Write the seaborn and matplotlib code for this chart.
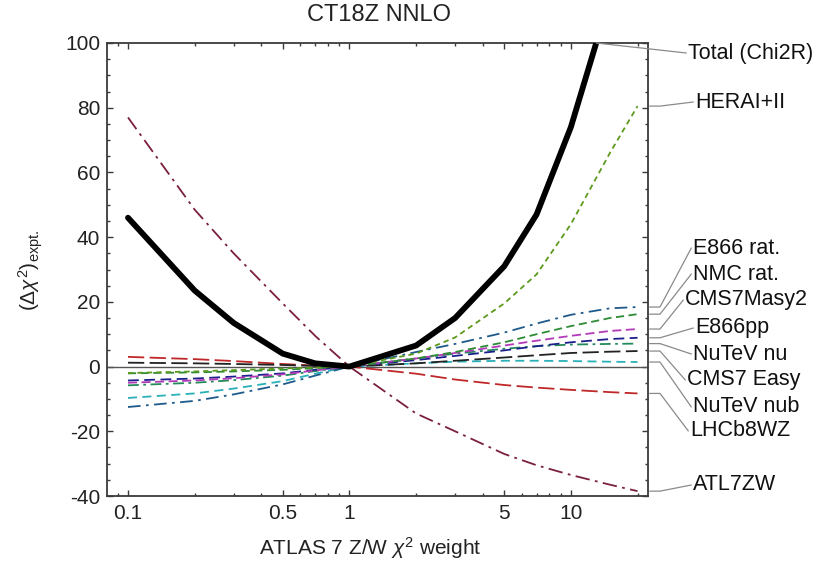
import numpy as np
import pandas as pd
import matplotlib
matplotlib.use("Agg")
import matplotlib.pyplot as plt
import seaborn as sns
from matplotlib.lines import Line2D
from matplotlib.ticker import FixedLocator, LogLocator, NullFormatter, MultipleLocator, FixedFormatter

# ---------------- data ----------------
weights = [0.1, 0.2, 0.3, 0.5, 0.7, 1, 2, 3, 5, 7, 10, 15, 20]
total = [46, 23.5, 13.5, 4.0, 1.0, 0, 6.5, 15, 31, 47, 74, 114, 150]
hera = [-2.0, -1.5, -1.1, -0.6, -0.3, 0, 4.0, 9.0, 19.5, 28.5, 44, 66, 80.5]
atl7zw = [77, 48.5, 35, 19.5, 9.5, 0, -14.5, -20, -27, -30.5, -33.5, -36.5, -38.5]
e866rat = [-12.5, -10.6, -8.6, -5.5, -2.8, 0, 4.5, 7.0, 10.5, 13.3, 16.0, 18.0, 18.4]
nmcrat = [-2.1, -1.8, -1.5, -1.0, -0.5, 0, 2.5, 4.5, 7.5, 10.0, 12.5, 15.0, 16.2]
cms7masy2 = [-5.0, -4.3, -3.6, -2.4, -1.2, 0, 2.5, 4.2, 6.5, 8.0, 9.5, 11.0, 11.6]
e866pp = [-4.3, -3.7, -3.1, -2.1, -1.0, 0, 2.0, 3.3, 5.0, 6.3, 7.5, 8.5, 8.9]
nutevnu = [-5.8, -5.0, -4.2, -2.8, -1.4, 0, 2.5, 4.0, 5.5, 6.3, 6.8, 7.0, 7.1]
cms7easy = [1.2, 1.0, 0.8, 0.5, 0.2, 0, 1.0, 1.8, 2.8, 3.5, 4.2, 4.6, 4.8]
nutevnub = [-9.7, -8.3, -6.8, -4.5, -2.2, 0, 1.0, 1.5, 1.8, 1.8, 1.7, 1.5, 1.4]
lhcb8wz = [3.0, 2.3, 1.7, 0.8, 0.3, 0, -2.2, -4.0, -5.7, -6.5, -7.2, -7.9, -8.3]

x_ticks = [0.1, 0.5, 1, 5, 10]
x_ticklabels = ["0.1", "0.5", "1", "5", "10"]
y_ticks = [-40, -20, 0, 20, 40, 60, 80, 100]

labels = ["Total (Chi2R)", "HERAI+II", "E866 rat.", "NMC rat.", "CMS7Masy2",
          "E866pp", "NuTeV nu", "CMS7 Easy", "NuTeV nub", "LHCb8WZ", "ATL7ZW"]
series_values = [total, hera, e866rat, nmcrat, cms7masy2, e866pp, nutevnu,
                 cms7easy, nutevnub, lhcb8wz, atl7zw]

# ---------------- styles ----------------
styles = {
    "Total (Chi2R)": dict(color="black", ls="-", lw=4.2),
    "HERAI+II": dict(color="#5c9a1e", ls=(0, (3, 2.2)), lw=1.3),
    "E866 rat.": dict(color="#1f5a8a", ls=(0, (7, 3, 1.5, 3)), lw=1.3),
    "NMC rat.": dict(color="#2e8b35", ls=(0, (4.5, 2.5)), lw=1.3),
    "CMS7Masy2": dict(color="#b23ab8", ls=(0, (5, 2.5)), lw=1.3),
    "E866pp": dict(color="#1c1f8c", ls=(0, (6, 3)), lw=1.3),
    "NuTeV nu": dict(color="#238a5a", ls=(0, (6, 2.5, 1.5, 2.5)), lw=1.3),
    "CMS7 Easy": dict(color="#222222", ls=(0, (9, 3)), lw=1.3),
    "NuTeV nub": dict(color="#2ab0b8", ls=(0, (5, 3)), lw=1.3),
    "LHCb8WZ": dict(color="#c0282a", ls=(0, (9, 3)), lw=1.3),
    "ATL7ZW": dict(color="#7a1f3d", ls=(0, (8, 3, 1.5, 3)), lw=1.3),
}

# label text positions in image pixels (x left, y centre from top)
label_pos = {
    "Total (Chi2R)": (688, 53), "HERAI+II": (695, 102), "E866 rat.": (693, 248),
    "NMC rat.": (693, 274), "CMS7Masy2": (685, 300), "E866pp": (695, 328),
    "NuTeV nu": (693, 354), "CMS7 Easy": (687, 380), "NuTeV nub": (693, 407),
    "LHCb8WZ": (690, 431), "ATL7ZW": (693, 485),
}

df = pd.DataFrame({"weight": np.tile(weights, len(labels)),
                   "value": np.concatenate(series_values),
                   "series": np.repeat(labels, len(weights))})

sns.set_style("ticks")
plt.rcParams["font.family"] = ["Liberation Sans", "DejaVu Sans"]
plt.rcParams["mathtext.fontset"] = "custom"
plt.rcParams["mathtext.rm"] = "Liberation Sans"
plt.rcParams["mathtext.it"] = "Liberation Sans:italic"
plt.rcParams["axes.unicode_minus"] = False

W, H = 838, 562
fig = plt.figure(figsize=(W / 100, H / 100), dpi=100)
L, R, T, B = 107, 648, 43, 496
ax = fig.add_axes([L / W, 1 - B / H, (R - L) / W, (B - T) / H])

ax.axhline(0, color="#555555", lw=1.0, zorder=1)

draw_order = labels[::-1]
for name in draw_order:
    st = styles[name]
    sub = df[df["series"] == name]
    sns.lineplot(data=sub, x="weight", y="value", ax=ax, color=st["color"],
                 linestyle=st["ls"], linewidth=st["lw"], legend=False,
                 zorder=5 if name == "Total (Chi2R)" else 3)

ax.set_xscale("log")
ax.set_xlim(0.0804, 22.3)
ax.set_ylim(-40, 100)
ax.xaxis.set_major_locator(FixedLocator(x_ticks))
ax.xaxis.set_major_formatter(FixedFormatter(x_ticklabels))
ax.xaxis.set_minor_locator(LogLocator(base=10, subs=np.arange(1, 10), numticks=20))
ax.xaxis.set_minor_formatter(NullFormatter())
ax.yaxis.set_major_locator(FixedLocator(y_ticks))
ax.yaxis.set_minor_locator(MultipleLocator(5))
ax.set_xlabel("")
ax.set_ylabel("")

spine_c = "#3a3a3a"
for s in ax.spines.values():
    s.set_color(spine_c)
    s.set_linewidth(1.3)
    s.set_visible(True)
ax.tick_params(which="both", direction="in", top=True, right=True,
               color=spine_c, width=1.0)
ax.tick_params(which="major", length=4.5)
ax.tick_params(which="minor", length=2.5)
ax.tick_params(axis="y", which="major", labelsize=15, pad=5, labelcolor="#222222")
ax.tick_params(axis="x", which="major", labelsize=15, pad=6, labelcolor="#222222")

# title and axis labels
fig.text(379 / W, 1 - 15 / H, "CT18Z NNLO", ha="center", va="center",
         fontsize=17, color="#222222")
fig.text(370 / W, 1 - 548 / H, r"ATLAS 7 Z/W $\chi^{2}$ weight", ha="center",
         va="center", fontsize=15, color="#222222")
fig.text(31 / W, 1 - 270 / H, r"$(\Delta\chi^{2})_{\mathrm{expt.}}$", ha="center",
         va="center", rotation=90, fontsize=15, color="#222222")

# leader lines and labels
fig.canvas.draw()
inv = fig.transFigure.inverted()
lead_c = "#8a8a8a"
for name, vals in zip(labels, series_values):
    tx, ty = label_pos[name]
    txf, tyf = tx / W, 1 - ty / H
    if name == "Total (Chi2R)":
        lw_ = np.log10(weights[5:])
        xc = 10 ** np.interp(100, vals[5:], lw_)
        p = inv.transform(ax.transData.transform((xc, 100)))
        pts = [(p[0], p[1]), (txf - 0.002, tyf)]
    else:
        yd = ax.transData.transform((weights[-1], vals[-1]))[1]
        yf = yd / fig.bbox.height
        x0 = R / W + 0.002
        x1 = (R + 12) / W
        pts = [(x0, yf), (x1, yf), (txf - 0.002, tyf)]
    xs, ys = zip(*pts)
    fig.add_artist(Line2D(xs, ys, transform=fig.transFigure, color=lead_c, lw=0.9))
    fig.text(txf, tyf, name, ha="left", va="center", fontsize=15.5, color="#111111")

fig.savefig("out.png", dpi=100)
